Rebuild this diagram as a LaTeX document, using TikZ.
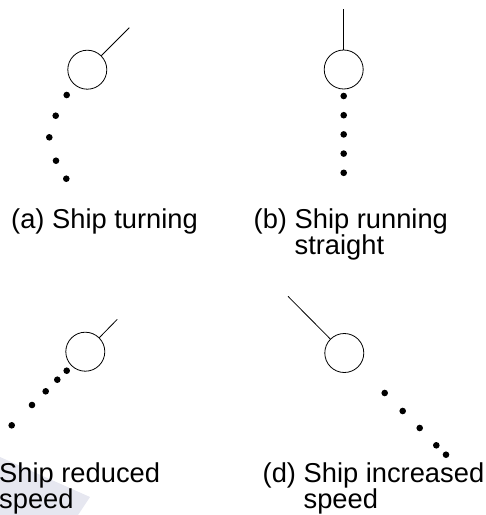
\documentclass[tikz,border=0pt]{standalone}
\usepackage{fontspec}
\setmainfont{Liberation Sans}
\usepackage{tikz}
\definecolor{wmark}{RGB}{230,231,240}

\begin{document}
\begin{tikzpicture}[x=1pt,y=-1pt,
  ship/.style={circle, draw, minimum size=39pt, inner sep=0pt, line width=0.8pt},
  heading/.style={line width=0.8pt},
  caption/.style={anchor=base west, inner sep=0pt, font=\fontsize{27.3}{25}\selectfont}]
\useasboundingbox (0,0) rectangle (486,515);
\fill [wmark] (0,457) -- (90,497) -- (78,515) -- (0,515) -- cycle;

\node (shipa) [ship] at (87.3,69.7) {};
\coordinate (heada) at (129.3,27.7);
\draw [heading] (shipa.45) -- (heada);
\foreach \p in {(66.7,95),(55.7,115.7),(49.3,137.3),(56,160.7),(66.3,178.7)}
  \fill \p circle (3.3);
\node (capa) [caption] at (11,228) {(a) Ship turning};

\node (shipb) [ship] at (343.7,69.5) {};
\coordinate (headb) at (343.7,9.3);
\draw [heading] (shipb.north) -- (headb);
\foreach \i in {0,...,4}
  \fill (343.7,96+19.2*\i) circle (3.3);
\node (capb) [caption] at (253.5,228) {\renewcommand\arraystretch{0.9}%
\begin{tabular}[t]{@{}l@{ }l@{}}
(b) & Ship running \\
    & straight \\
\end{tabular}};

\node (shipc) [ship] at (85.3,351.7) {};
\coordinate (headc) at (117.3,319.3);
\draw [heading] (shipc.45) -- (headc);
\foreach \p in {(66.7,370.7),(57.3,379.7),(45.7,391.3),(32,405),(11.7,425.3)}
  \fill \p circle (3.3);
\node (capc) [caption] at (-1,482) {\renewcommand\arraystretch{0.9}%
\begin{tabular}[t]{@{}l@{}}
Ship reduced \\
speed \\
\end{tabular}};

\node (shipd) [ship] at (344.3,353) {};
\coordinate (headd) at (288,296.3);
\draw [heading] (shipd.135) -- (headd);
\foreach \p in {(384.7,393),(402.7,411),(419.7,428),(436.3,445.3),(446,454.7)}
  \fill \p circle (3.3);
\node (capd) [caption] at (262.5,482) {\renewcommand\arraystretch{0.9}%
\begin{tabular}[t]{@{}l@{ }l@{}}
(d) & Ship increased \\
    & speed \\
\end{tabular}};
\end{tikzpicture}
\end{document}
